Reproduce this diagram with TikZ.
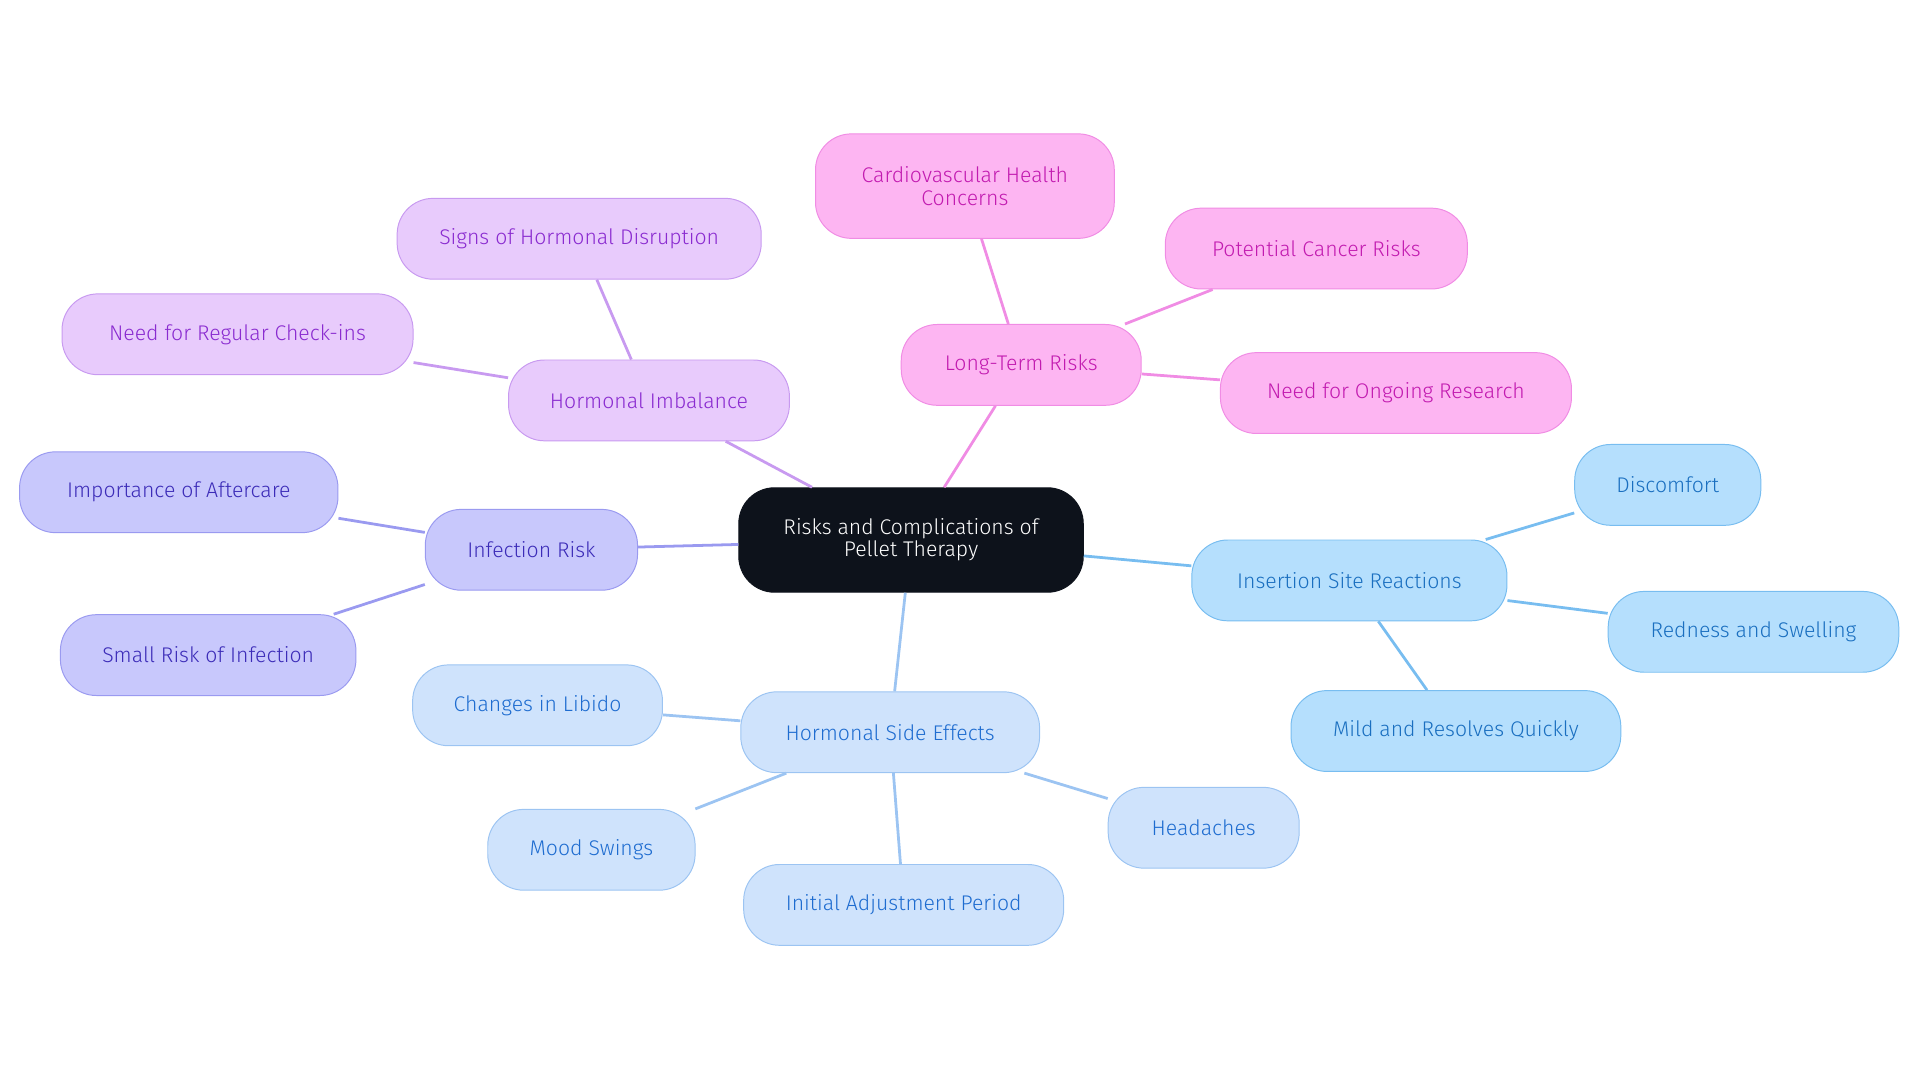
\documentclass[tikz,border=0pt]{standalone}
\usepackage{fontspec}
\setmainfont{Fira Sans}[UprightFont=*-Light]
\definecolor{cdark}{HTML}{0D121B}
\definecolor{pinkF}{HTML}{FDB5F2}\definecolor{pinkD}{HTML}{F08CE4}\definecolor{pinkT}{HTML}{C21BB0}
\definecolor{lavF}{HTML}{E8CBFC}\definecolor{lavD}{HTML}{C89AF0}\definecolor{lavT}{HTML}{8A2BD0}
\definecolor{perF}{HTML}{C8C8FC}\definecolor{perD}{HTML}{9A9AF0}\definecolor{perT}{HTML}{3C2CB8}
\definecolor{hseF}{HTML}{CFE3FC}\definecolor{hseD}{HTML}{9CC4F2}\definecolor{hseT}{HTML}{1E6CD0}
\definecolor{insF}{HTML}{B5DFFD}\definecolor{insD}{HTML}{78BDF0}\definecolor{insT}{HTML}{1A6FC0}
\tikzset{
  box/.style={rounded corners=22pt, minimum height=49.5pt, align=center, font=\fontsize{13}{13.5}\selectfont, line width=0.6pt},
  pink/.style={box, fill=pinkF, draw=pinkD, text=pinkT},
  lav/.style={box, fill=lavF, draw=lavD, text=lavT},
  per/.style={box, fill=perF, draw=perD, text=perT},
  hse/.style={box, fill=hseF, draw=hseD, text=hseT},
  ins/.style={box, fill=insF, draw=insD, text=insT},
  link/.style={line width=1.7pt}
}
\begin{document}
\begin{tikzpicture}[x=0.75pt,y=-0.75pt]
\useasboundingbox (0,0) rectangle (1568,884);
\node[box, fill=cdark, draw=cdark, text=white, minimum width=211pt, minimum height=64pt] (root) at (744,441) {Risks and Complications of\\Pellet Therapy};
% long-term
\node[pink, minimum width=147pt] (ltr) at (834,298) {Long-Term Risks};
\node[pink, minimum width=183pt, minimum height=64pt] (cardio) at (788,152) {Cardiovascular Health\\Concerns};
\node[pink, minimum width=185pt] (cancer) at (1075,203) {Potential Cancer Risks};
\node[pink, minimum width=215pt] (research) at (1140,321) {Need for Ongoing Research};
% hormonal imbalance
\node[lav, minimum width=172pt] (himb) at (530,327) {Hormonal Imbalance};
\node[lav, minimum width=223pt] (signs) at (473,195) {Signs of Hormonal Disruption};
\node[lav, minimum width=215pt] (checkins) at (194,273) {Need for Regular Check-ins};
% infection
\node[per, minimum width=130pt] (infect) at (434,449) {Infection Risk};
\node[per, minimum width=195pt] (aftercare) at (146,402) {Importance of Aftercare};
\node[per, minimum width=181pt] (smallrisk) at (170,535) {Small Risk of Infection};
% hormonal side effects
\node[hse, minimum width=183pt] (hse) at (727,598) {Hormonal Side Effects};
\node[hse, minimum width=153pt] (libido) at (439,576) {Changes in Libido};
\node[hse, minimum width=127pt] (mood) at (483,694) {Mood Swings};
\node[hse, minimum width=196pt] (adjust) at (738,739) {Initial Adjustment Period};
\node[hse, minimum width=117pt] (headache) at (983,676) {Headaches};
% insertion site
\node[ins, minimum width=193pt] (insert) at (1102,474) {Insertion Site Reactions};
\node[ins, minimum width=114pt] (discomfort) at (1362,396) {Discomfort};
\node[ins, minimum width=178pt] (redness) at (1432,516) {Redness and Swelling};
\node[ins, minimum width=202pt] (mild) at (1189,597) {Mild and Resolves Quickly};
% links
\draw[link, pinkD] (root) -- (ltr) (ltr) -- (cardio) (ltr) -- (cancer) (ltr) -- (research);
\draw[link, lavD] (root) -- (himb) (himb) -- (signs) (himb) -- (checkins);
\draw[link, perD] (root) -- (infect) (infect) -- (aftercare) (infect) -- (smallrisk);
\draw[link, hseD] (root) -- (hse) (hse) -- (libido) (hse) -- (mood) (hse) -- (adjust) (hse) -- (headache);
\draw[link, insD] (root) -- (insert) (insert) -- (discomfort) (insert) -- (redness) (insert) -- (mild);
\end{tikzpicture}
\end{document}
